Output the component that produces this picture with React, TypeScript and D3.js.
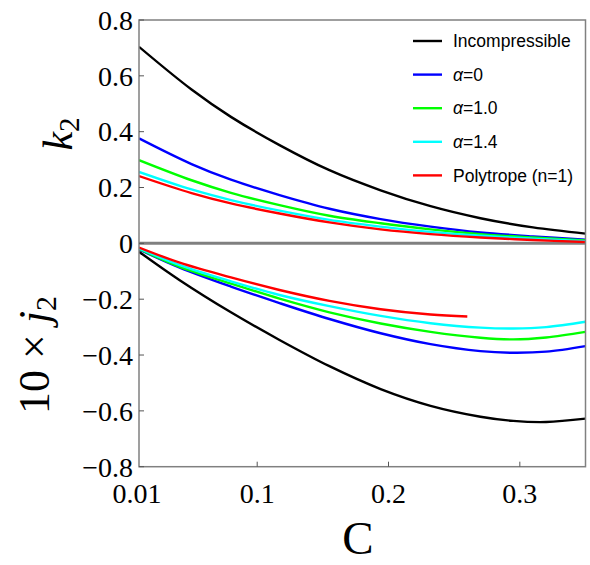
import React from "react";
import * as d3 from "d3";

// ---- data ----
const cUpper = [0.01, 0.05, 0.08, 0.117, 0.155, 0.194, 0.232, 0.27, 0.31, 0.35];
const k2Incompressible = [0.704, 0.551, 0.453, 0.352, 0.262, 0.19, 0.133, 0.09, 0.057, 0.035];
const k2Alpha0 = [0.376, 0.284, 0.228, 0.173, 0.124, 0.087, 0.06, 0.039, 0.025, 0.013];
const k2Alpha10 = [0.298, 0.226, 0.181, 0.137, 0.099, 0.072, 0.05, 0.033, 0.021, 0.01];
const k2Alpha14 = [0.256, 0.193, 0.155, 0.117, 0.084, 0.06, 0.041, 0.027, 0.017, 0.008];
const k2Polytrope = [0.241, 0.18, 0.143, 0.107, 0.075, 0.05, 0.033, 0.021, 0.012, 0.005];

const cLower = [0.01, 0.041, 0.08, 0.117, 0.155, 0.194, 0.232, 0.27, 0.295, 0.32, 0.35];
const j2Incompressible = [-0.03, -0.132, -0.247, -0.346, -0.44, -0.522, -0.582, -0.621, -0.636, -0.64, -0.628];
const j2Alpha0 = [-0.022, -0.087, -0.155, -0.214, -0.271, -0.322, -0.361, -0.386, -0.392, -0.388, -0.368];
const j2Alpha10 = [-0.02, -0.084, -0.144, -0.198, -0.247, -0.287, -0.317, -0.338, -0.344, -0.337, -0.317];
const j2Alpha14 = [-0.018, -0.078, -0.136, -0.185, -0.225, -0.26, -0.286, -0.302, -0.305, -0.3, -0.281];
const cPolyLower = [0.01, 0.041, 0.08, 0.117, 0.155, 0.194, 0.232, 0.26];
const j2Polytrope = [-0.015, -0.069, -0.122, -0.167, -0.206, -0.236, -0.255, -0.262];

const xTicks = [0.01, 0.1, 0.2, 0.3];
const xTickLabels = ["0.01", "0.1", "0.2", "0.3"];
const yTicks = [0.8, 0.6, 0.4, 0.2, 0, -0.2, -0.4, -0.6, -0.8];
const yTickLabels = ["0.8", "0.6", "0.4", "0.2", "0", "\u22120.2", "\u22120.4", "\u22120.6", "\u22120.8"];

const seriesNames = ["Incompressible", "α=0", "α=1.0", "α=1.4", "Polytrope (n=1)"];
const seriesColors = ["#000000", "#0000ff", "#00ff00", "#00ffff", "#ff0000"];

export default function App() {
  const W = 590, H = 565;
  const left = 139, right = 585.5, top = 20, bottom = 466.7;
  const x = d3.scaleLinear().domain([0.01, 0.35]).range([left, right]);
  const y = d3.scaleLinear().domain([-0.8, 0.8]).range([bottom, top]);

  const line = d3
    .line<[number, number]>()
    .x((d) => x(d[0]))
    .y((d) => y(d[1]))
    .curve(d3.curveCatmullRom.alpha(0.5));

  const zip = (cs: number[], vs: number[]) => cs.map((c, i) => [c, vs[i]] as [number, number]);

  const upper = [k2Incompressible, k2Alpha0, k2Alpha10, k2Alpha14, k2Polytrope];
  const lowerC = [cLower, cLower, cLower, cLower, cPolyLower];
  const lower = [j2Incompressible, j2Alpha0, j2Alpha10, j2Alpha14, j2Polytrope];

  const serif = "'Liberation Serif', 'Times New Roman', serif";
  const sans = "'Liberation Sans', Arial, sans-serif";

  return (
    <svg
      width={W}
      height={H}
      style={{ position: "absolute", left: 0, top: 0, background: "#fff" }}
    >
      <defs>
        <clipPath id="plotclip">
          <rect x={left} y={top} width={right - left} height={bottom - top} />
        </clipPath>
      </defs>
      <rect x={0} y={0} width={W} height={H} fill="#fff" />

      {/* zero line */}
      <line x1={left} x2={right} y1={y(0)} y2={y(0)} stroke="#808080" strokeWidth={3} />

      {/* curves */}
      <g clipPath="url(#plotclip)" fill="none" strokeWidth={2.4}>
        {upper.map((vs, i) => (
          <path key={"u" + i} d={line(zip(cUpper, vs)) || ""} stroke={seriesColors[i]} />
        ))}
        {lower.map((vs, i) => (
          <path key={"l" + i} d={line(zip(lowerC[i], vs)) || ""} stroke={seriesColors[i]} />
        ))}
      </g>

      {/* frame */}
      <rect
        x={left}
        y={top}
        width={right - left}
        height={bottom - top}
        fill="none"
        stroke="#808080"
        strokeWidth={1.5}
      />

      {/* ticks */}
      {yTicks.map((t, i) => (
        <g key={"yt" + i}>
          <line x1={left} x2={left + 5} y1={y(t)} y2={y(t)} stroke="#555" strokeWidth={1} />
          <text
            x={133}
            y={y(t)}
            dy="0.35em"
            textAnchor="end"
            fontFamily={serif}
            fontSize={28}
            fill="#000"
          >
            {yTickLabels[i]}
          </text>
        </g>
      ))}
      {xTicks.map((t, i) => (
        <g key={"xt" + i}>
          {i > 0 && (
            <line x1={x(t)} x2={x(t)} y1={bottom} y2={bottom - 5} stroke="#555" strokeWidth={1} />
          )}
          <text
            x={i === 0 ? x(t) - 2 : x(t)}
            y={503}
            textAnchor="middle"
            fontFamily={serif}
            fontSize={28}
            fill="#000"
          >
            {xTickLabels[i]}
          </text>
        </g>
      ))}

      {/* axis labels */}
      <text x={358} y={554} textAnchor="middle" fontFamily={serif} fontSize={47} fill="#000">
        C
      </text>
      <text
        transform="translate(72,134) rotate(-90)"
        textAnchor="middle"
        fontFamily={serif}
        fontSize={42}
        fill="#000"
      >
        <tspan fontStyle="italic">k</tspan>
        <tspan fontSize={29} dy={7}>2</tspan>
      </text>
      <text
        transform="translate(49,355) rotate(-90)"
        textAnchor="middle"
        fontFamily={serif}
        fontSize={44}
        fill="#000"
      >
        <tspan>10 × </tspan>
        <tspan fontStyle="italic">j</tspan>
        <tspan fontSize={30} dy={7}>2</tspan>
      </text>

      {/* legend */}
      {seriesNames.map((name, i) => {
        const ly = 41 + i * 33.6;
        const isAlpha = name.startsWith("α");
        return (
          <g key={"lg" + i}>
            <line x1={413} x2={442} y1={ly} y2={ly} stroke={seriesColors[i]} strokeWidth={2.4} />
            <text
              x={453}
              y={ly}
              dy="0.35em"
              fontFamily={sans}
              fontSize={17.5}
              fill="#000"
            >
              {isAlpha ? (
                <>
                  <tspan fontStyle="italic">α</tspan>
                  <tspan>{name.slice(1)}</tspan>
                </>
              ) : (
                name
              )}
            </text>
          </g>
        );
      })}
    </svg>
  );
}
